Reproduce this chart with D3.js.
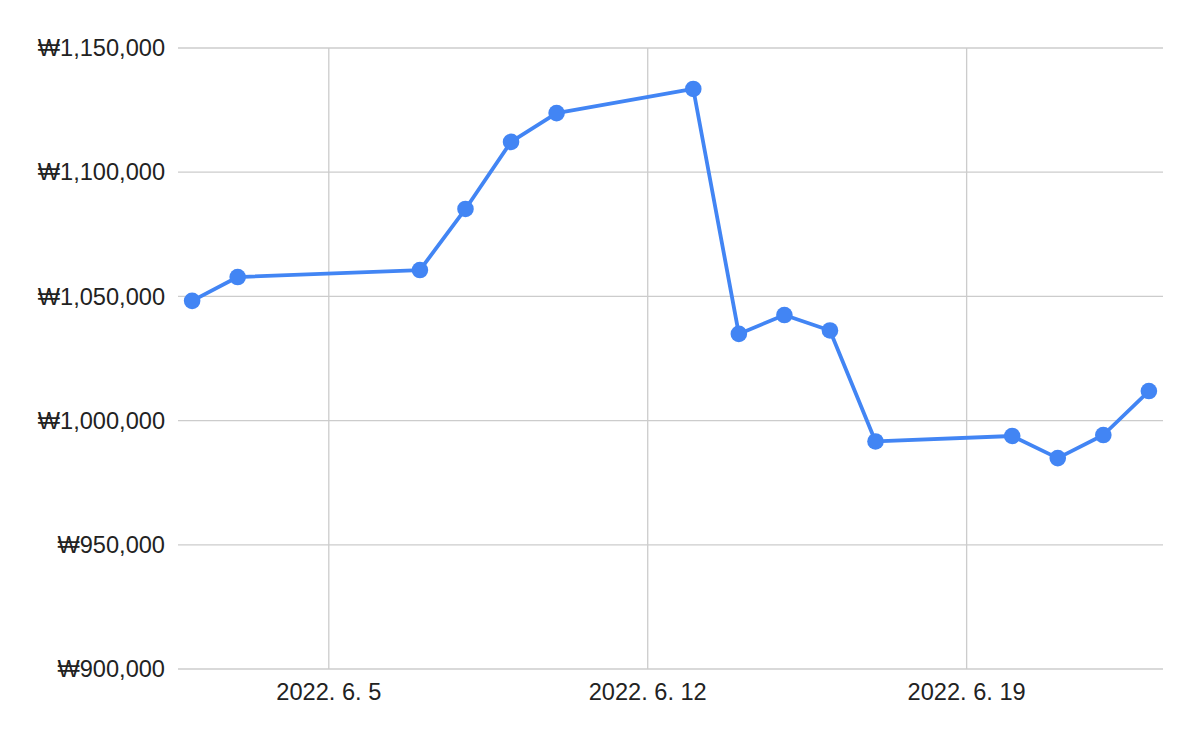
<!DOCTYPE html>
<html><head><meta charset="utf-8">
<script src="https://cdn.jsdelivr.net/npm/d3@7"></script>
<style>body{margin:0;background:#fff;} svg{display:block;font-family:Arial,"Liberation Sans",sans-serif;}</style>
</head><body>
<svg id="c" width="1200" height="742"></svg>
<script>
const dates = ["2022-06-02","2022-06-03","2022-06-07","2022-06-08","2022-06-09","2022-06-10","2022-06-13","2022-06-14","2022-06-15","2022-06-16","2022-06-17","2022-06-20","2022-06-21","2022-06-22","2022-06-23"];
const values = [1048200,1057800,1060600,1085200,1112200,1123800,1133500,1034900,1042500,1036300,991600,993800,984900,994200,1011900];
const yTicks = [900000,950000,1000000,1050000,1100000,1150000];
const xTickDates = ["2022-06-05","2022-06-12","2022-06-19"];
const xTickLabels = ["2022. 6. 5","2022. 6. 12","2022. 6. 19"];

const parse = d3.utcParse("%Y-%m-%d");
const data = dates.map((d,i)=>({date:parse(d), value:values[i]}));
const svg = d3.select("#c");
const L=178, R=1163, T=48, B=669;
const day = 864e5;
const x = d3.scaleUtc().domain([+parse(dates[0]) - 0.31*day, +parse(dates[dates.length-1]) + 0.31*day]).range([L,R]);
const y = d3.scaleLinear().domain([900000,1150000]).range([B,T]);

// gridlines
svg.append("g").selectAll("line").data(yTicks).join("line")
  .attr("x1",L).attr("x2",R).attr("y1",d=>y(d)).attr("y2",d=>y(d))
  .attr("stroke","#cccccc").attr("stroke-width",1.3);
svg.append("g").selectAll("line").data(xTickDates).join("line")
  .attr("x1",d=>x(parse(d))).attr("x2",d=>x(parse(d))).attr("y1",T).attr("y2",B)
  .attr("stroke","#cccccc").attr("stroke-width",1.3);

// y labels
const fmt = d3.format(",");
svg.append("g").selectAll("text").data(yTicks).join("text")
  .attr("x",165).attr("y",d=>y(d)).attr("dy","0.35em").attr("text-anchor","end")
  .attr("font-size",23.6).attr("fill","#222").text(d=>"₩"+fmt(d));
// x labels
svg.append("g").selectAll("text").data(xTickDates).join("text")
  .attr("x",d=>x(parse(d))).attr("y",700).attr("text-anchor","middle")
  .attr("font-size",23.6).attr("fill","#222").text((d,i)=>xTickLabels[i]);

// line
svg.append("path").datum(data)
  .attr("fill","none").attr("stroke","#4285f4").attr("stroke-width",3.8)
  .attr("stroke-linejoin","round")
  .attr("d", d3.line().x(d=>x(d.date)).y(d=>y(d.value)));
svg.append("g").selectAll("circle").data(data).join("circle")
  .attr("cx",d=>x(d.date)).attr("cy",d=>y(d.value)).attr("r",8.3).attr("fill","#4285f4");
</script>
</body></html>
